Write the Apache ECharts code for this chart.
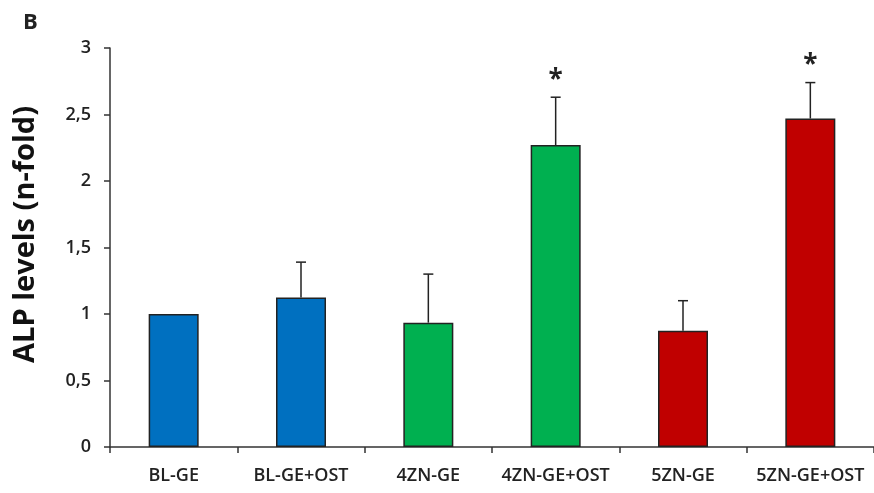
<!DOCTYPE html>
<html><head><meta charset="utf-8">
<script src="https://cdn.jsdelivr.net/npm/echarts@6/dist/echarts.min.js"></script>
<style>html,body{margin:0;padding:0;background:#fff}#c{width:874px;height:493px}</style>
</head><body><div id="c"></div>
<script>
const categories = ['BL-GE','BL-GE+OST','4ZN-GE','4ZN-GE+OST','5ZN-GE','5ZN-GE+OST'];
const values = [1.0, 1.125, 0.935, 2.27, 0.875, 2.47];
const errorTops = [1.0, 1.39, 1.30, 2.63, 1.10, 2.74];
const significance = ['', '', '', '*', '', '*'];
const colors = ['#0070C0','#0070C0','#00B050','#00B050','#C00000','#C00000'];
const yTicks = [0, 0.5, 1, 1.5, 2, 2.5, 3];

const chart = echarts.init(document.getElementById('c'));
const font = '"Open Sans", "Noto Sans", sans-serif';
chart.setOption({
  animation: false,
  grid: {left: 110, right: 0, top: 48, bottom: 46},
  graphic: [{type:'text', left: 23, top: 12, style:{text:'B', font:'bold 22px ' + font, fill:'#222'}}],
  xAxis: {
    type: 'category', data: categories,
    axisLine: {lineStyle: {color: '#333', width: 1.5}},
    axisTick: {show: true, length: 6, lineStyle: {color:'#333', width: 1.5}},
    axisLabel: {interval: 0, color: '#222', fontFamily: font, fontWeight: 600, fontSize: 18, margin: 20}
  },
  yAxis: {
    type: 'value', min: 0, max: 3, interval: 0.5,
    name: 'ALP levels (n-fold)', nameLocation: 'middle', nameGap: 70,
    nameTextStyle: {fontFamily: font, fontWeight: 'bold', fontSize: 29, color: '#111', padding: [0, 0, 0, 26]},
    axisLine: {show: true, lineStyle: {color: '#333', width: 1.5}},
    axisTick: {show: true, length: 6, lineStyle: {color:'#333', width: 1.5}},
    splitLine: {show: false},
    axisLabel: {color: '#222', fontFamily: font, fontWeight: 600, fontSize: 18, margin: 19,
      formatter: v => yTicks.includes(v) ? String(v).replace('.', ',') : ''}
  },
  series: [
    {
      type: 'bar', barWidth: 50,
      data: values.map((v, i) => ({value: v, itemStyle: {color: colors[i]}})),
      itemStyle: {borderColor: '#222', borderWidth: 1.5}
    },
    {
      type: 'custom',
      data: categories.map((c, i) => [i, values[i], errorTops[i]]),
      renderItem: function (params, api) {
        const base = api.coord([api.value(0), api.value(1)]);
        const top = api.coord([api.value(0), api.value(2)]);
        const children = [];
        if (api.value(2) > api.value(1)) {
          children.push({type:'line', shape:{x1: base[0], y1: base[1], x2: top[0], y2: top[1]}, style:{stroke:'#222', lineWidth:1.5}});
          children.push({type:'line', shape:{x1: top[0]-5, y1: top[1], x2: top[0]+5, y2: top[1]}, style:{stroke:'#222', lineWidth:1.5}});
        }
        const s = significance[params.dataIndex];
        if (s) {
          children.push({type:'text', x: top[0], y: top[1] - 4, style:{text: s, font: 'bold 26px ' + font, fill:'#222', align:'center', verticalAlign:'bottom'}});
        }
        return {type:'group', children};
      },
      z: 5
    }
  ]
});
</script></body></html>
